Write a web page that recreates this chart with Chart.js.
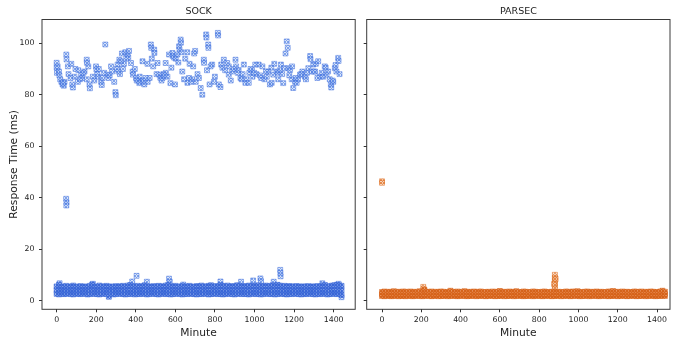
<!DOCTYPE html>
<html><head><meta charset="utf-8">
<script src="https://cdn.jsdelivr.net/npm/chart.js@4/dist/chart.umd.min.js"></script>
<style>
html,body{margin:0;padding:0;background:#fff;overflow:hidden}
#wrap{position:relative;width:675px;height:343px;background:#fff}
canvas{position:absolute;top:0}
#c1{left:0}#c2{left:360px}
</style></head>
<body><div id="wrap"><canvas id="c1" width="360" height="343"></canvas><canvas id="c2" width="315" height="343"></canvas></div>
<script>
// ---------------- data ----------------
const panelTitles = ['SOCK', 'PARSEC'];
const xTickValues = [0, 200, 400, 600, 800, 1000, 1200, 1400];
const yTickValues = [0, 20, 40, 60, 80, 100];
const bandStep = 12; // minutes between sampled columns of the dense low band

// SOCK: dense low band (three sampled rows, one value per column)
const sockBandHigh = [5.6,6.2,5.4,5.5,5.8,5.3,5.6,5.9,5.4,5.5,
5.7,5.4,5.6,5.3,5.8,6.3,5.5,5.4,5.9,5.6,
5.5,5.8,5.4,5.6,5.3,5.7,5.5,5.6,5.8,5.4,
5.9,6.1,5.6,5.5,5.8,5.4,5.7,6.0,5.5,5.6,
5.4,5.7,5.5,5.8,5.6,5.5,5.9,6.2,5.6,5.5,
5.8,5.4,5.6,5.7,5.5,5.6,5.8,5.4,5.5,5.7,
5.6,5.9,5.5,5.6,5.8,6.0,5.5,5.7,5.6,6.1,
5.8,5.6,5.9,5.5,5.7,5.6,6.0,5.8,5.5,5.7,
5.6,5.9,5.7,5.8,5.6,6.0,5.5,5.7,5.9,5.6,
5.8,6.0,5.7,6.2,5.9,5.6,5.8,5.5,5.7,5.6,
5.5,5.7,5.6,5.4,5.6,5.5,5.7,5.4,5.6,5.5,
5.7,5.6,5.8,6.1,5.5,5.7,5.9,6.0,6.2,6.0,
5.8];
const sockBandMid = [4.1,4.3,4.0,4.2,4.1,4.0,4.2,4.3,4.1,4.0,
4.2,4.1,4.0,4.2,4.3,4.1,4.0,4.2,4.1,4.3,
4.0,4.2,4.1,4.0,4.2,4.1,4.3,4.0,4.1,4.2,
4.1,4.3,4.0,4.2,4.1,4.2,4.0,4.3,4.1,4.2,
4.0,4.1,4.2,4.0,4.3,4.1,4.2,4.0,4.1,4.3,
4.2,4.0,4.1,4.2,4.1,4.3,4.0,4.2,4.1,4.0,
4.2,4.1,4.3,4.0,4.2,4.1,4.0,4.2,4.3,4.1,
4.1,4.2,4.0,4.3,4.1,4.2,4.0,4.1,4.2,4.3,
4.0,4.2,4.1,4.3,4.0,4.2,4.1,4.0,4.2,4.1,
4.3,4.1,4.2,4.0,4.3,4.1,4.0,4.2,4.1,4.2,
4.0,4.1,4.2,4.0,4.1,4.2,4.0,4.1,4.3,4.0,
4.2,4.1,4.0,4.2,4.1,4.3,4.0,4.2,4.1,4.0,
4.1];
const sockBandLow = [2.7,2.5,2.8,2.6,2.7,2.9,2.6,2.5,2.8,2.7,
2.6,2.8,2.7,2.5,2.6,2.8,2.7,2.6,2.5,2.7,
2.8,2.6,1.6,2.7,2.5,2.6,2.8,2.7,2.6,2.5,
2.7,2.6,2.8,2.5,2.7,2.6,2.8,2.7,2.5,2.6,
2.8,2.7,2.6,2.5,2.7,2.8,2.6,2.7,2.5,2.6,
2.7,2.8,2.6,2.5,2.7,2.6,2.8,2.7,2.6,2.5,
2.7,2.6,2.8,2.7,2.5,2.6,2.7,2.8,2.6,2.7,
2.5,2.6,2.8,2.7,2.6,2.5,2.7,2.8,2.6,2.7,
2.6,2.5,2.7,2.8,2.6,2.7,2.5,2.6,2.8,2.7,
2.6,2.7,2.5,2.6,2.8,2.7,2.6,2.5,2.7,2.6,
2.8,2.7,2.6,2.5,2.7,2.6,2.8,2.7,2.6,2.5,
2.7,2.6,2.8,2.7,2.5,2.6,2.7,2.8,2.6,2.7,
2.2];

// SOCK: sparse points (upper cluster, the ~38 ms group and spikes above the band)
const sockSparseX = [0,0,2,12,14,24,30,36,40,49,50,57,60,74,79,82,90,95,107,110,124,128,141,152,153,152,166,168,183,190,199,201,210,213,225,228,240,246,258,262,275,280,291,297,299,308,317,320,330,340,347,359,362,376,384,386,395,401,412,420,426,443,434,459,460,470,476,478,493,494,481,510,518,524,535,540,552,551,560,568,580,585,587,598,594,610,619,621,627,628,635,644,650,660,661,669,672,686,690,700,703,719,728,736,744,745,756,757,766,767,773,786,795,815,816,820,828,832,845,862,870,870,880,887,895,904,907,920,929,940,946,954,960,971,974,987,990,1004,1010,1021,1034,1040,1050,1062,1070,1078,1087,1095,1100,1112,1120,1134,1140,1150,1157,1163,1168,1171,1180,1188,1190,1196,1205,1213,1220,1230,1242,1255,1265,1272,1281,1283,1290,1297,1306,1310,1322,1331,1340,1347,1355,1364,1372,1380,1386,1388,1398,1406,1414,1423,1425,1430,
5,18,32,70,118,135,160,205,232,268,305,312,325,335,352,366,405,418,438,450,488,505,530,545,575,602,615,630,680,695,712,760,778,800,838,852,915,935,980,998,1028,1058,1085,1118,1128,1145,1176,1208,1236,1260,1300,1318,1360,1395,1410,
48,50,49,
15,183,382,404,456,568,572,640,828,932,993,1030,1033,1097,1130,1131,1132,1343,1425,1440];
const sockSparseY = [92.4,90.5,88.5,89,87.5,85,84,83.5,85,95.6,93.7,91,88,92,84,82.8,87,90,85,89.5,87.8,86.5,89,93.6,92.4,86,84,82.5,87,85.5,91,89.8,87,90,85,83.8,88.5,99.5,87.8,86.5,91,89,85,81,79.8,91.7,93.6,88,96,92,96.5,95.6,94.4,92.3,89,87.8,90,86.5,85.5,87,85,84,93,92,85,86.5,99.5,98.2,97.5,96.2,94,92.3,87.8,86.6,86.5,88,88.5,92.3,87,95.6,90.5,96.2,95,84,94.4,95.6,98.8,97.6,101.4,100.2,89,86,94,96.5,84.6,86.5,92,86,91,97,85,86.5,82.6,80,93.6,92.4,103.4,102.2,99.5,98.2,84,91.7,85,104,103,84,83,91.7,93.6,92.3,87.8,91,85.5,89,90,93.6,91,89.6,86.5,88,91.7,84.6,86,84.6,88.5,89.6,87,91.7,88,91.7,86.5,91,86,87,89,84,84.6,87.8,92,89,86,91.7,88,90.3,96,100.7,98.2,90.3,89.6,86,91,82.6,85,84.6,86,87.8,89,87,88.5,90.3,95,93.8,89,91.7,89,92,93,87,88.5,87,91,87.8,89,86,84,82.8,85,90.3,89,94.3,93.1,88,
91,86,84.5,86.5,86,88.5,91,88,86.5,87.5,90,89,93,90,94,97,85.5,84.5,85.5,86.5,91,88,85.5,87.5,84.5,94,92.5,96.5,85,96,88,89.5,91,87,90.5,89.5,88.5,86,90,88.5,87.5,89,90.5,88.5,89.5,84.5,87.5,86.5,88,86,89,86.5,90.5,85.5,91.5,
39.6,38.2,37,
6.8,6.6,7.5,9.7,7.4,8.6,7.4,6.3,7.5,7.4,7.9,8.7,7.6,7.4,12,10.8,9.5,6.8,6.6,1.4];

// PARSEC: dense low band
const parsecBandHigh = [3.4,3.6,3.3,3.5,3.4,3.7,3.3,3.5,3.4,3.6,
3.5,3.3,3.6,3.4,3.5,3.3,3.7,3.4,4.2,3.5,
3.4,3.6,3.3,3.5,3.4,3.6,3.5,3.3,3.4,3.9,
3.5,3.4,3.6,3.3,3.5,3.7,3.4,3.5,3.3,3.6,
3.4,3.5,3.6,3.3,3.4,3.5,3.3,3.6,3.4,3.5,
3.8,3.4,3.5,3.3,3.6,3.4,3.5,3.7,3.3,3.4,
3.6,3.5,3.4,3.3,3.6,3.5,3.4,3.3,3.5,3.6,
3.4,3.3,3.5,3.6,3.4,3.5,3.3,3.4,3.6,3.5,
3.4,3.6,3.5,3.7,3.4,3.3,3.5,3.6,3.4,3.5,
3.3,3.6,3.4,3.5,3.3,3.4,3.6,3.5,3.8,3.4,
3.5,3.3,3.6,3.4,3.5,3.3,3.4,3.6,3.5,3.4,
3.6,3.3,3.5,3.4,3.6,3.5,3.4,3.3,3.6,3.9,
3.5];
const parsecBandMid = [2.6,2.7,2.5,2.6,2.7,2.6,2.5,2.7,2.6,2.6,
2.7,2.5,2.6,2.7,2.6,2.5,2.6,2.7,2.6,2.5,
2.6,2.7,2.6,2.5,2.7,2.6,2.6,2.5,2.7,2.6,
2.5,2.6,2.7,2.6,2.5,2.6,2.7,2.6,2.6,2.5,
2.7,2.6,2.5,2.6,2.7,2.6,2.5,2.6,2.7,2.6,
2.6,2.5,2.7,2.6,2.6,2.5,2.7,2.6,2.5,2.6,
2.7,2.6,2.6,2.5,2.7,2.6,2.5,2.6,2.7,2.6,
2.5,2.6,2.7,2.6,2.5,2.6,2.6,2.7,2.5,2.6,
2.6,2.7,2.5,2.6,2.6,2.7,2.5,2.6,2.7,2.6,
2.5,2.6,2.6,2.7,2.5,2.6,2.7,2.6,2.5,2.6,
2.6,2.7,2.5,2.6,2.7,2.6,2.5,2.6,2.6,2.7,
2.5,2.6,2.7,2.6,2.5,2.6,2.7,2.6,2.5,2.6,
2.6];
const parsecBandLow = [1.9,1.8,2.0,1.9,1.8,1.9,2.0,1.8,1.9,1.9,
1.8,2.0,1.9,1.8,1.9,2.0,1.9,1.8,1.9,2.0,
1.9,1.8,1.9,2.0,1.8,1.9,1.9,2.0,1.8,1.9,
2.0,1.9,1.8,1.9,2.0,1.9,1.8,1.9,1.9,2.0,
1.8,1.9,2.0,1.9,1.8,1.9,2.0,1.9,1.8,1.9,
1.9,2.0,1.8,1.9,1.9,2.0,1.8,1.9,2.0,1.9,
1.8,1.9,1.9,2.0,1.8,1.9,2.0,1.9,1.8,1.9,
2.0,1.9,1.8,1.9,1.9,2.0,1.8,1.9,2.0,1.9,
1.8,1.9,2.0,1.9,1.8,1.9,1.9,2.0,1.8,1.9,
2.0,1.9,1.8,1.9,2.0,1.9,1.8,1.9,1.9,2.0,
1.8,1.9,2.0,1.9,1.8,1.9,2.0,1.9,1.8,1.9,
1.9,2.0,1.8,1.9,2.0,1.9,1.8,1.9,1.9,2.0,
1.9];
// PARSEC: sparse points (outlier near minute 0, spike near minute 880)
const parsecSparseX = [0,0,880,880,880,880,880,880,876,884,210,212];
const parsecSparseY = [46.4,45.8,10.1,9.0,8.0,7.0,6.0,5.0,6.5,8.5,5.4,4.6];

// ---------------- helpers ----------------
function bandPoints(rows){
  const pts=[];
  rows.forEach(r=>r.forEach((y,i)=>pts.push({x:i*bandStep,y})));
  return pts;
}
function pairPoints(xs,ys){ return xs.map((x,i)=>({x,y:ys[i]})); }
function hatch(line, bg){
  const c=document.createElement('canvas'); c.width=c.height=3;
  const g=c.getContext('2d');
  g.fillStyle=bg; g.fillRect(0,0,3,3);
  g.fillStyle=line;
  [[0,0],[1,1],[2,2],[2,0],[0,2]].forEach(([x,y])=>g.fillRect(x,y,1,1));
  return g.createPattern(c,'repeat');
}
const FONT='DejaVu Sans';
const frame = {
  id:'frame',
  afterDatasetsDraw(chart){
    const {ctx, chartArea:a} = chart;
    ctx.save(); ctx.strokeStyle='#3a3a3a'; ctx.lineWidth=1;
    ctx.strokeRect(a.left, a.top, a.right-a.left, a.bottom-a.top);
    // panel title centred over the plot area
    ctx.fillStyle='#222'; ctx.font='9.5px "'+FONT+'"';
    ctx.textAlign='center'; ctx.textBaseline='middle';
    ctx.fillText(chart.options.panelTitle, (a.left+a.right)/2, 11.5);
    ctx.restore();
  }
};

function makePanel(canvas, cfg){
  const base = { pointStyle:'rect', pointRadius:3.5, borderWidth:0.8, showLine:false };
  return new Chart(canvas, {
    type:'scatter',
    data:{datasets:[
      Object.assign({data:cfg.band, borderColor:cfg.bandEdge, backgroundColor:cfg.bandFill}, base),
      Object.assign({data:cfg.sparse, borderColor:cfg.edge, backgroundColor:cfg.fill}, base)
    ]},
    options:{
      panelTitle:cfg.title,
      responsive:false, animation:false, events:[],
      layout:{padding:{left:0,right:cfg.padRight,top:19.5,bottom:0}},
      plugins:{ legend:{display:false}, tooltip:{enabled:false}, title:{display:false} },
      scales:{
        x:{type:'linear', min:cfg.xmin, max:cfg.xmax,
          afterBuildTicks:s=>{s.ticks=xTickValues.map(v=>({value:v}));},
          afterFit:s=>{s.height=33.7;},
          grid:{display:true, drawOnChartArea:false, drawTicks:true, tickLength:3, color:'#333', tickColor:'#333'},
          border:{display:false},
          ticks:{color:'#222', font:{family:FONT,size:7.8}, padding:3, maxRotation:0, autoSkip:false, callback:v=>String(v)},
          title:{display:true, text:'Minute', color:'#222', font:{family:FONT,size:10.7,lineHeight:1.2}, padding:{top:0,bottom:3.5}}
        },
        y:{type:'linear', min:-3.3, max:109.2,
          afterBuildTicks:s=>{s.ticks=yTickValues.map(v=>({value:v}));},
          afterFit:s=>{s.width=cfg.yWidth;},
          grid:{display:true, drawOnChartArea:false, drawTicks:true, tickLength:3, color:'#333', tickColor:'#333'},
          border:{display:false},
          ticks:{display:cfg.showY, color:'#222', font:{family:FONT,size:7.8}, padding:4.5, callback:v=>String(v)},
          title:{display:cfg.showY, text:'Response Time (ms)', color:'#222', font:{family:FONT,size:10.7,lineHeight:1.2}, padding:{top:7.5,bottom:0}}
        }
      }
    },
    plugins:[frame]
  });
}

makePanel(document.getElementById('c1'), {
  title:panelTitles[0],
  band:bandPoints([sockBandLow,sockBandMid,sockBandHigh]),
  sparse:pairPoints(sockSparseX,sockSparseY),
  edge:'rgba(65,112,222,0.6)', fill:hatch('rgba(70,120,225,0.6)','rgba(170,198,245,0.45)'),
  bandEdge:'rgba(60,105,215,0.75)', bandFill:hatch('rgba(55,100,215,0.85)','rgba(95,135,225,0.6)'),
  xmin:-74, xmax:1509, yWidth:42, padRight:3.3, showY:true
});
makePanel(document.getElementById('c2'), {
  title:panelTitles[1],
  band:bandPoints([parsecBandLow,parsecBandMid,parsecBandHigh]),
  sparse:pairPoints(parsecSparseX,parsecSparseY),
  edge:'rgba(222,108,30,0.6)', fill:hatch('rgba(225,115,40,0.6)','rgba(245,195,160,0.45)'),
  bandEdge:'rgba(215,100,28,0.75)', bandFill:hatch('rgba(212,98,25,0.85)','rgba(228,130,70,0.6)'),
  xmin:-78, xmax:1466, yWidth:6.7, padRight:5, showY:false
});
</script></body></html>
